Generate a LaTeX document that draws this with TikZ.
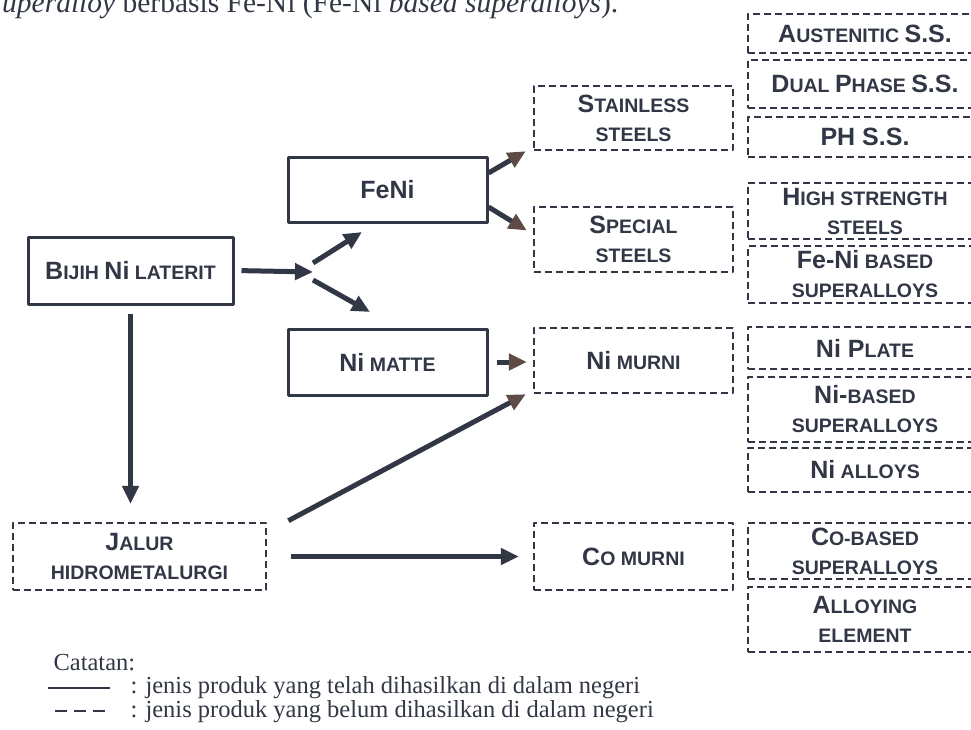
\documentclass[tikz,border=0pt]{standalone}
\usepackage{fontspec}
\setmainfont{Liberation Serif}
\newfontfamily\boxfont{Liberation Sans}
\usetikzlibrary{arrows.meta}
\definecolor{ink}{HTML}{323746}
\definecolor{headbrown}{HTML}{5E4B45}
\newcommand{\bigc}[1]{{\fontsize{25}{29}\selectfont #1}}
\begin{document}
\begin{tikzpicture}[x=1pt,y=-1pt,line join=round,
	boxtext/.style={text=ink,align=center,font=\boxfont\bfseries\fontsize{19.5}{29}\selectfont},
	solidbox/.style={boxtext,draw=ink,line width=3pt,minimum width=199pt},
	dashbox/.style={boxtext,draw=ink,line width=2.4pt,dash pattern=on 7pt off 4pt},
	midbox/.style={dashbox,minimum width=199pt,minimum height=65pt},
	prodbox/.style={dashbox,minimum width=234pt},
	arr/.style={draw=ink,line width=5pt,-{Triangle[length=18pt,width=16pt]}},
	brownarr/.style={draw=ink,line width=5pt,-{Triangle[length=18pt,width=16pt,color=headbrown]}},
	legtext/.style={anchor=base west,text=ink,font=\fontsize{24.5}{26}\selectfont}]
		\clip (0,0) rectangle (971,730);
		% top line of the page
		\node[anchor=base west,text=ink,font=\fontsize{29.5}{31}\selectfont,inner sep=0pt] (title) at (2,13)
			{\textit{uperalloy} berbasis Fe-Ni (Fe-Ni \textit{based superalloys}).};
		% main route
		\node[solidbox,minimum height=67pt,minimum width=205pt] (bijih) at (130.5,270.5) {\bigc{B}IJIH \bigc{Ni} LATERIT};
		\node[solidbox,minimum height=64pt] (feni) at (387.5,190) {\bigc{FeNi}};
		\node[solidbox,minimum height=66pt] (matte) at (387.5,362) {\bigc{Ni} MATTE};
		\node[dashbox,minimum width=253pt,minimum height=67pt] (jalur) at (139.5,556.5) {\bigc{J}ALUR\\HIDROMETALURGI};
		% middle column
		\node[midbox,minimum height=64pt] (stainless) at (633.5,118) {\bigc{S}TAINLESS\\STEELS};
		\node[midbox] (special) at (633.5,239.5) {\bigc{S}PECIAL\\STEELS};
		\node[midbox] (murni) at (633.5,360.5) {\bigc{Ni} MURNI};
		\node[midbox,minimum height=67pt] (comurni) at (633.5,556.5) {\bigc{C}O MURNI};
		% products
		\node[prodbox,minimum height=39pt] (austenitic) at (865,33.5) {\bigc{A}USTENITIC \bigc{S.S.}};
		\node[prodbox,minimum height=48pt] (dual) at (865,84) {\bigc{D}UAL \bigc{P}HASE \bigc{S.S.}};
		\node[prodbox,minimum height=40pt] (ph) at (865,137) {\bigc{PH S.S.}};
		\node[prodbox,minimum height=56pt] (highstr) at (865,211) {\bigc{H}IGH STRENGTH\\STEELS};
		\node[prodbox,minimum height=57pt] (fenibased) at (865,274.5) {\bigc{Fe-Ni} BASED\\SUPERALLOYS};
		\node[prodbox,minimum height=42pt] (niplate) at (865,348) {\bigc{Ni P}LATE};
		\node[prodbox,minimum height=65pt] (nibased) at (865,409.5) {\bigc{Ni-}BASED\\SUPERALLOYS};
		\node[prodbox,minimum height=44pt] (nialloys) at (865,470) {\bigc{Ni} ALLOYS};
		\node[prodbox,minimum height=56pt] (cobased) at (865,551) {\bigc{C}O-BASED\\SUPERALLOYS};
		\node[prodbox,minimum height=65pt] (alloying) at (865,619.5) {\bigc{A}LLOYING\\ELEMENT};
		% fork
		\coordinate (fork) at (313,272);
		\coordinate (forkup) at (313,263);
		\coordinate (forkdn) at (313,280);
		\coordinate (toferi) at (362,232);
		\coordinate (tomatte) at (370,312);
		\draw[arr,shorten <=7pt] (bijih.east) -- (fork);
		\draw[arr] (forkup) -- (toferi);
		\draw[arr] (forkdn) -- (tomatte);
		% arrows
		\draw[brownarr] ([yshift=17pt]feni.east) -- ([xshift=-7pt]stainless.south west);
		\draw[brownarr] ([yshift=-17pt]feni.east) -- ([xshift=-6pt,yshift=9pt]special.west);
		\draw[brownarr,shorten <=8pt,shorten >=6pt] (matte.east) -- (matte.east -| murni.west);
		\draw[arr,shorten <=8pt,shorten >=18pt] (bijih.south) -- (bijih.south |- jalur.north);
		\draw[brownarr,shorten <=24pt] ([yshift=24.5pt]jalur.east) -- ([xshift=-7pt]murni.south west);
		\draw[arr,shorten <=24pt,shorten >=14pt] (jalur.east) -- (comurni.west);
		% legend
		\node[legtext] (catatan) at (50,670) {Catatan:};
		\node[legtext] (legone) at (127,693) {: jenis produk yang telah dihasilkan di dalam negeri};
		\node[legtext] (legtwo) at (127,717) {: jenis produk yang belum dihasilkan di dalam negeri};
		\draw[ink,line width=2pt] (48,688) -- (110,688);
		\draw[ink,line width=2pt,dash pattern=on 12pt off 7pt] (55,711) -- (110,711);
\end{tikzpicture}
\end{document}
